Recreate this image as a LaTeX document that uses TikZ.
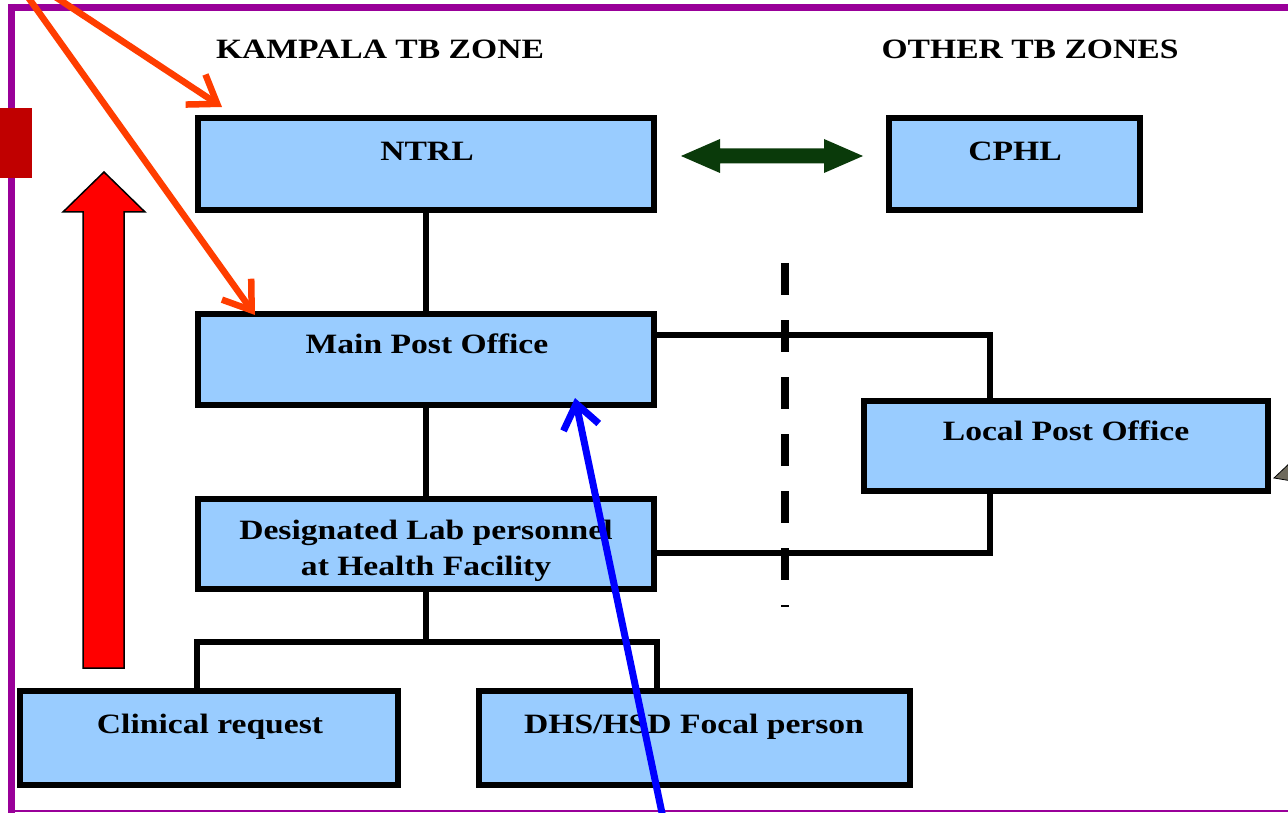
\documentclass[tikz,border=0pt]{standalone}
\usepackage{fontspec}
\setmainfont{Liberation Serif}
\usetikzlibrary{arrows.meta}
\definecolor{boxblue}{HTML}{99CCFF}
\definecolor{framepurple}{HTML}{990099}
\definecolor{darkredbox}{HTML}{C00000}
\definecolor{orangeline}{HTML}{FF3D00}
\definecolor{darkgreenarrow}{HTML}{0A3A0A}
\definecolor{tipgray}{HTML}{6E6A5C}
\newcommand{\wtxt}[1]{\scalebox{1.2}[1]{#1}}
\begin{document}
\begin{tikzpicture}[x=1pt,y=1pt,
  box/.style={draw=black, line width=6.5, fill=boxblue, rectangle, inner sep=0},
  txt/.style={font=\fontsize{28}{38}\selectfont\bfseries, inner sep=0, anchor=base, text=black},
  conn/.style={draw=black, line width=6},
  orangearrow/.style={draw=orangeline, line width=6.5, line cap=round, line join=round,
     -{Straight Barb[length=26pt,width=36pt]}},
  bluearrow/.style={draw=blue, line width=7, line cap=round, line join=round,
     -{Straight Barb[length=24pt,width=36pt]}}
]
\useasboundingbox (0,0) rectangle (1288,-813);
\clip (0,0) rectangle (1288,-813);
\fill[white] (0,0) rectangle (1288,-813);

% frame
\draw[framepurple, line width=7] (8,-7.5) -- (1300,-7.5);
\draw[framepurple, line width=7] (11.5,-4) -- (11.5,-820);
\draw[framepurple, line width=2.5] (10,-811) -- (1300,-811);

% dark red marker
\fill[darkredbox] (0,-108) rectangle (32,-178);

% big red arrow
\filldraw[fill=red, draw=black, line width=1.5]
  (83,-668) -- (83,-212) -- (63,-212) -- (104,-172) -- (145,-212) -- (124,-212) -- (124,-668) -- cycle;

% boxes
\node[box, minimum width=456, minimum height=92] (ntrl) at (426,-164) {};
\node[box, minimum width=251, minimum height=92] (cphl) at (1014.5,-164) {};
\node[box, minimum width=456, minimum height=91] (mpo) at (426,-359.5) {};
\node[box, minimum width=404, minimum height=90] (lpo) at (1066,-446) {};
\node[box, minimum width=456, minimum height=90] (dlp) at (426,-544) {};
\node[box, minimum width=378, minimum height=94] (clin) at (209,-738) {};
\node[box, minimum width=431, minimum height=94] (dhs) at (694.5,-738) {};

% connectors
\draw[conn] (ntrl.south) -- (mpo.north);
\draw[conn] (mpo.south) -- (dlp.north);
\draw[conn] ([yshift=24.5]mpo.east) -| ([xshift=-76]lpo.north);
\draw[conn] ([xshift=-76]lpo.south) |- ([yshift=-9]dlp.east);
\coordinate (junc) at (426,-642);
\draw[conn] (dlp.south) -- (junc);
\draw[conn] (junc) -| ([xshift=-12]clin.north);
\draw[conn] (junc) -| ([xshift=-37.5]dhs.north);

% dashed zone separator
\coordinate (dtop) at (785,-263);
\coordinate (dbot) at (785,-607);
\draw[black, line width=8, dash pattern=on 32 off 25] (dtop) -- (dbot);

% green double arrow
\fill[darkgreenarrow] (681,-156) -- (720,-139) -- (720,-148.5) -- (824,-148.5) -- (824,-139)
  -- (863,-156) -- (824,-173) -- (824,-163.5) -- (720,-163.5) -- (720,-173) -- cycle;

% texts
\node[txt] (tkz) at (380,-59) {\wtxt{KAMPALA TB ZONE}};
\node[txt] (toz) at (1030,-59) {\wtxt{OTHER TB ZONES}};
\node[txt] (tntrl) at (427,-161) {\wtxt{NTRL}};
\node[txt] (tcphl) at (1015,-161) {\wtxt{CPHL}};
\node[txt] (tmpo) at (427,-353) {\wtxt{Main Post Office}};
\node[txt] (tlpo) at (1066,-440) {\wtxt{Local Post Office}};
\node[txt] (tdlpa) at (426,-539) {\wtxt{Designated Lab personnel}};
\node[txt] (tdlpb) at (426,-575) {\wtxt{at Health Facility}};
\node[txt] (tclin) at (210,-733) {\wtxt{Clinical request}};
\node[txt] (tdhs) at (694,-733) {\wtxt{DHS/HSD Focal person}};

% gray arrowhead at right edge
\filldraw[fill=tipgray, draw=black, line width=0.8] (1274,-478) -- (1292,-461) -- (1292,-481) -- cycle;

% orange pointer arrows
\coordinate (oa1) at (43.8,10.7);
\coordinate (ob1) at (222,-107);
\coordinate (oa2) at (22.9,10);
\coordinate (ob2) at (255,-315);
\draw[orangearrow] (oa1) -- (ob1);
\draw[orangearrow] (oa2) -- (ob2);

% blue pointer arrow
\coordinate (ba) at (664.6,-825.5);
\coordinate (bb) at (575,-398);
\draw[bluearrow] (ba) -- (bb);
\end{tikzpicture}
\end{document}
